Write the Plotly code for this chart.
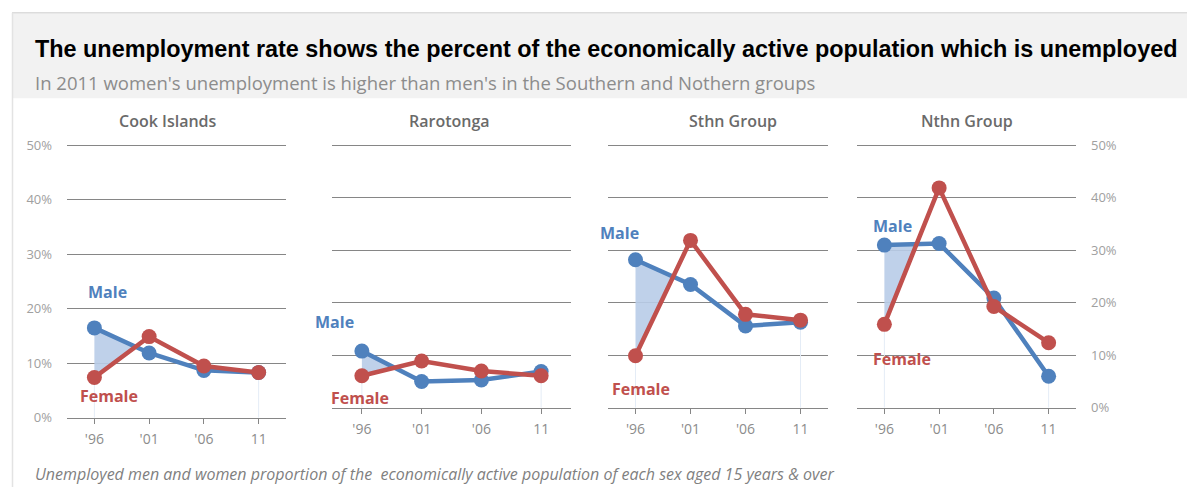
import plotly.graph_objects as go

W, H = 1187, 487

years = ["'96", "'01", "'06", "11"]
regions = ["Cook Islands", "Rarotonga", "Sthn Group", "Nthn Group"]
male_cook = [16.5, 11.9, 8.7, 8.3]
female_cook = [7.4, 14.9, 9.5, 8.3]
male_raro = [10.8, 5.0, 5.3, 6.9]
female_raro = [6.1, 8.9, 7.0, 6.1]
male_sthn = [28.2, 23.5, 15.6, 16.3]
female_sthn = [9.9, 31.9, 17.8, 16.7]
male_nthn = [31.0, 31.3, 20.9, 6.0]
female_nthn = [15.9, 41.9, 19.3, 12.4]
y_ticks = [0, 10, 20, 30, 40, 50]
y_ticktext = [f"{v}%" for v in y_ticks]

male_all = [male_cook, male_raro, male_sthn, male_nthn]
female_all = [female_cook, female_raro, female_sthn, female_nthn]

BLUE = "#4f81bd"
RED = "#c0504d"
FILL = "rgba(184,204,232,0.9)"
GRID = "#868686"

# layout (pixels, in reference image coordinates)
x_dom_px = [(67, 286), (332, 571), (608, 828), (857, 1076)]
y_dom_px = [(145, 417), (145, 407), (145, 407), (145, 407)]
male_lbl_px = [(107, 291), (334, 321), (620, 232), (892, 225)]
female_lbl_px = [(109, 395), (360, 397), (641, 388), (902, 358)]
title_cx = [168, 449, 733, 967]


def px(x):
    return x / W


def py(y):
    return 1 - ((y + 2) / 0.968 - 8) / H


fig = go.Figure()

for i in range(4):
    xa = "x" if i == 0 else f"x{i+1}"
    ya = "y" if i == 0 else f"y{i+1}"
    m = male_all[i]
    f = female_all[i]
    d0 = m[0] - f[0]
    d1 = m[1] - f[1]
    if d0 > 0:
        if d1 < 0:
            t = d0 / (d0 - d1)
            yc = m[0] + t * (m[1] - m[0])
            fx = [0, t, 0, 0]
            fy = [m[0], yc, f[0], m[0]]
        else:
            fx = [0, 1, 1, 0, 0]
            fy = [m[0], m[1], f[1], f[0], m[0]]
        fig.add_trace(go.Scatter(x=fx, y=fy, fill="toself", fillcolor=FILL,
                                 mode="none", hoverinfo="skip", showlegend=False,
                                 xaxis=xa, yaxis=ya))
    for k in (0, 3):
        fig.add_trace(go.Scatter(x=[k, k], y=[0, min(m[k], f[k])], mode="lines",
                                 line=dict(color="#e4ecf6", width=1),
                                 hoverinfo="skip", showlegend=False,
                                 xaxis=xa, yaxis=ya))
    fig.add_trace(go.Scatter(x=[0, 1, 2, 3], y=m, mode="lines+markers",
                             line=dict(color=BLUE, width=4.5),
                             marker=dict(size=15, color=BLUE),
                             name="Male", showlegend=False, xaxis=xa, yaxis=ya))
    fig.add_trace(go.Scatter(x=[0, 1, 2, 3], y=f, mode="lines+markers",
                             line=dict(color=RED, width=4.5),
                             marker=dict(size=15, color=RED),
                             name="Female", showlegend=False, xaxis=xa, yaxis=ya))

layout = dict(
    width=W, height=H,
    margin=dict(l=0, r=0, t=0, b=0),
    paper_bgcolor="white", plot_bgcolor="rgba(0,0,0,0)",
    showlegend=False,
)
XFONT = dict(family="Open Sans, sans-serif", size=14, color="#8c8c8c")
YFONT = dict(family="Open Sans, sans-serif", size=13, color="#a0a0a0")
for i in range(4):
    sfx = "" if i == 0 else str(i + 1)
    x0, x1 = x_dom_px[i]
    yt, yb = y_dom_px[i]
    scale = (yb - yt) / 50.0
    ytop = yt - 0.6 * scale
    layout["xaxis" + sfx] = dict(
        domain=[px(x0), px(x1)], anchor="y" + sfx,
        range=[-0.5, 3.5], tickmode="array", tickvals=[0, 1, 2, 3], ticktext=years,
        showgrid=False, zeroline=False, showline=True, linecolor=GRID, linewidth=1.3,
        ticks="outside", ticklen=5, tickcolor=GRID, tickwidth=1.3,
        tickson="boundaries", tickfont=XFONT, fixedrange=True, ticklabelstandoff=3,
    )
    ya = dict(
        domain=[py(yb), py(ytop)], anchor="x" + sfx,
        range=[0, 50.6], tickmode="array", tickvals=y_ticks, ticktext=y_ticktext,
        showgrid=True, gridcolor=GRID, gridwidth=1.3, zeroline=False,
        showline=False, ticks="", tickfont=YFONT, fixedrange=True,
        showticklabels=(i in (0, 3)),
    )
    if i == 3:
        ya["side"] = "right"
        ya["ticklabelstandoff"] = 14
    if i == 0:
        ya["ticklabelstandoff"] = 14
    layout["yaxis" + sfx] = ya

shapes = [
    dict(type="rect", xref="paper", yref="paper", x0=px(13), x1=1.01, y0=py(98), y1=py(13),
         fillcolor="#f2f2f2", line=dict(width=0), layer="below"),
    dict(type="line", xref="paper", yref="paper", x0=px(12), x1=1.01, y0=py(12.5), y1=py(12.5),
         line=dict(color="#dcdcdc", width=1.5)),
    dict(type="line", xref="paper", yref="paper", x0=px(12.5), x1=px(12.5), y0=-0.02, y1=py(12.5),
         line=dict(color="#e3e3e3", width=1.5)),
]

annotations = [
    dict(text="<b>The unemployment rate shows the percent of the economically active population which is unemployed</b>",
         xref="paper", yref="paper", x=px(33), y=py(49), xanchor="left", yanchor="middle",
         showarrow=False, font=dict(family="Liberation Sans, Arial, sans-serif", size=23.4, color="#000000")),
    dict(text="In 2011 women's unemployment is higher than men's in the Southern and Nothern groups",
         xref="paper", yref="paper", x=px(33), y=py(82), xanchor="left", yanchor="middle",
         showarrow=False, font=dict(family="Open Sans, sans-serif", size=18.5, color="#8c8c8c")),
    dict(text="<i>Unemployed men and women proportion of the  economically active population of each sex aged 15 years &amp; over</i>",
         xref="paper", yref="paper", x=px(33), y=py(473), xanchor="left", yanchor="middle",
         showarrow=False, font=dict(family="Open Sans, sans-serif", size=16, color="#7f7f7f")),
]
for i in range(4):
    annotations.append(dict(text=regions[i], xref="paper", yref="paper",
                            x=px(title_cx[i]), y=py(121), xanchor="center", yanchor="middle",
                            showarrow=False,
                            font=dict(family="Open Sans, sans-serif", size=16, weight=600, color="#6a6a6a")))
    mx, my = male_lbl_px[i]
    fx_, fy_ = female_lbl_px[i]
    annotations.append(dict(text="<b>Male</b>", xref="paper", yref="paper", x=px(mx), y=py(my),
                            xanchor="center", yanchor="middle", showarrow=False,
                            font=dict(family="Open Sans, sans-serif", size=16, color=BLUE)))
    annotations.append(dict(text="<b>Female</b>", xref="paper", yref="paper", x=px(fx_), y=py(fy_),
                            xanchor="center", yanchor="middle", showarrow=False,
                            font=dict(family="Open Sans, sans-serif", size=16, color=RED)))

layout["shapes"] = shapes
layout["annotations"] = annotations
fig.update_layout(**layout)
fig.write_html("out.html")
